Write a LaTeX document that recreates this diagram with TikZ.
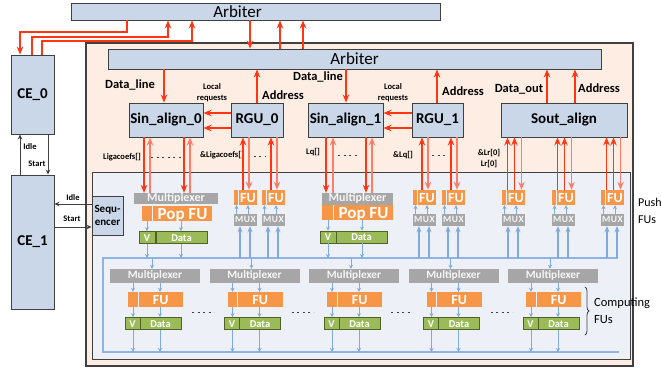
\documentclass[tikz,border=0pt]{standalone}
\usepackage{fontspec}
\setmainfont{Carlito}
\usetikzlibrary{arrows.meta,positioning,calc,decorations.pathreplacing}
\definecolor{nbox}{HTML}{C9D7E8}
\definecolor{npeach}{HTML}{FDEDE2}
\definecolor{narea}{HTML}{EDF1F7}
\definecolor{nframe}{HTML}{404040}
\definecolor{nred}{HTML}{FF3514}
\definecolor{nlightred}{HTML}{FF7D68}
\definecolor{nblue}{HTML}{80AADB}
\definecolor{nbus}{HTML}{8DB4E2}
\definecolor{norange}{HTML}{F79646}
\definecolor{ngreen}{HTML}{9BBB59}
\definecolor{ndarkgreen}{HTML}{4F6228}
\definecolor{ngray}{HTML}{A6A6A6}

\begin{document}
\begin{tikzpicture}[x=1pt,y=-1pt,
  blk/.style={draw=nframe,fill=nbox,line width=0.9pt,inner sep=0pt,font=\bfseries\fontsize{15}{15}\selectfont},
  lbl/.style={font=\bfseries\fontsize{12.5}{13}\selectfont},
  tiny/.style={font=\bfseries\fontsize{8.5}{11}\selectfont,align=center,inner sep=0pt},
  rarr/.style={-{Stealth[length=8pt,width=6.5pt]},nred,line width=1.2pt},
  larr/.style={rarr,nlightred},
  karr/.style={-{Stealth[length=5pt,width=4.5pt]},nframe,line width=0.9pt},
  barr/.style={-{Stealth[length=4pt,width=4pt]},nblue,line width=0.9pt},
  bin/.style={-{Stealth[length=6pt,width=5pt]},nblue,line width=1.4pt},
  mux/.style={fill=ngray,inner sep=0pt,text=white!93!gray,text height=7pt,text depth=1.5pt},
  fu/.style={fill=norange,inner sep=0pt,text=white,text height=9pt,text depth=0pt,
    font=\bfseries\fontsize{14}{14}\selectfont},
  reg/.style={draw=ndarkgreen,fill=ngreen,line width=0.7pt,inner sep=0pt,text=white,
    text height=7pt,text depth=0pt,minimum height=12pt,font=\bfseries\fontsize{10.5}{11}\selectfont},
  dashes/.style={dash pattern=on 2pt off 3.5pt,line width=0.9pt,nframe}]
\useasboundingbox[fill=white] (0,0) rectangle (662,368);

% arbiters and control engines
\node[blk,minimum width=369pt,minimum height=17pt,
  label={[xshift=-18pt,font=\fontsize{17}{17}\selectfont]center:Arbiter}] (arb) at (255.5,11.5) {};
\node[blk,minimum width=43pt,minimum height=79pt] (ce0) at (32.5,94.5) {CE\_0};
\node[blk,minimum width=43pt,minimum height=134pt] (ce1) at (32.5,242) {CE\_1};
\draw[nframe,fill=npeach,line width=1.1pt] (86,43) rectangle (633,366);
\draw[nframe,fill=narea,line width=0.9pt] (92,172) rectangle (630,359);
\node[blk,minimum width=493pt,minimum height=20pt,font=\fontsize{17}{17}\selectfont] (iarb) at (354.5,59) {Arbiter};
\node[blk,minimum width=31pt,minimum height=39pt,align=center,font=\bfseries\fontsize{11}{13}\selectfont] (seq) at (107.5,215.5) {Sequ-\\encer};

\node[blk,minimum width=74pt,minimum height=34pt] (sa0) at (166,120) {Sin\_align\_0};
\node[blk,minimum width=52pt,minimum height=34pt] (rgu0) at (257,120) {RGU\_0};
\node[blk,minimum width=75pt,minimum height=34pt] (sa1) at (345.5,120) {Sin\_align\_1};
\node[blk,minimum width=51pt,minimum height=34pt] (rgu1) at (437.5,120) {RGU\_1};
\node[blk,minimum width=126pt,minimum height=34pt] (sout) at (564,120) {Sout\_align};

\draw[rarr] (127,0 |- arb.south) |- (20,32) -- (20,0 |- ce0.north);
\draw[rarr] (32,0 |- ce0.north) |- (168,37) -- (168,0 |- arb.south);
\draw[rarr] (42,0 |- ce0.north) |- (192,41) -- (192,0 |- arb.south);
\draw[rarr] (250,0 |- arb.south) -- (250,0 |- iarb.north);
\draw[rarr] (280,0 |- iarb.north) -- (280,0 |- arb.south);
\draw[rarr] (303,0 |- iarb.north) -- (303,0 |- arb.south);

\draw[karr] (20,0 |- ce1.north) -- (20,0 |- ce0.south);
\draw[karr] (48,0 |- ce0.south) -- (48,0 |- ce1.north);
\draw[karr] (seq.west |- 0,204) -- (ce1.east |- 0,204);
\draw[karr] (ce1.east |- 0,227) -- (seq.west |- 0,227);
\node[tiny] (idle0) at (30,147) {Idle};
\node[tiny] (start0) at (37,164) {Start};
\node[tiny] (idle1) at (73,198) {Idle};
\node[tiny] (start1) at (72,219) {Start};

% align units
\draw[rarr] (164,0 |- iarb.south) -- (164,0 |- sa0.north);
\draw[rarr] (257,0 |- rgu0.north) -- (257,0 |- iarb.south);
\draw[rarr] (346,0 |- iarb.south) -- (346,0 |- sa1.north);
\draw[rarr] (437,0 |- rgu1.north) -- (437,0 |- iarb.south);
\draw[rarr] (547,0 |- sout.north) -- (547,0 |- iarb.south);
\draw[rarr] (575,0 |- sout.north) -- (575,0 |- iarb.south);
\foreach \y in {113,128} {
  \draw[rarr] (rgu0.west |- 0,\y) -- (sa0.east |- 0,\y);
  \draw[rarr] (rgu1.west |- 0,\y) -- (sa1.east |- 0,\y);
}
\node[lbl] (dl0) at (130,85) {Data\_line};
\node[lbl] (ad0) at (283,95) {Address};
\node[lbl] (dl1) at (318,77) {Data\_line};
\node[lbl] (ad1) at (463,91) {Address};
\node[lbl] (dout) at (519,89) {Data\_out};
\node[lbl] (ad2) at (599,88) {Address};
\node[tiny] (lreq0) at (212,92.5) {Local\\requests};
\node[tiny] (lreq1) at (393,92.5) {Local\\requests};

\node[tiny] (lc0) at (122,157) {Ligacoefs[]};
\draw[dashes] (151,157) -- (184,157);
\node[tiny] (lc1) at (222,155) {\&Ligacoefs[]};
\draw[dashes] (248,156) -- (266,156);
\node[tiny] (lq0) at (313,152) {Lq[]};
\draw[dashes] (338,155) -- (359,155);
\node[tiny] (lq1) at (403,155) {\&Lq[]};
\draw[dashes] (432,155) -- (448,155);
\node[tiny] (lr) at (489,159) {\&Lr[0]\\Lr[0]};

% bus
\coordinate (bustop) at (103,258);
\coordinate (busbot) at (103,352);
\draw[nbus,line width=2.2pt] (618,258) -- (bustop) -- (busbot) -- (619,352);

% pop FUs
\node[mux,minimum width=84pt,minimum height=11pt,font=\bfseries\fontsize{12}{12}\selectfont] (pmux0) at (176,198.5) {Multiplexer};
\fill[norange] (142,206) rectangle (152,221);
\node[fu,minimum width=59pt,minimum height=15pt,text height=11pt,font=\bfseries\fontsize{17}{17}\selectfont] (pop0) at (182.5,213.5) {Pop FU};
\node[reg,minimum width=16pt] (pv0) at (147,237.5) {V};
\node[reg,minimum width=51pt] (pd0) at (181.5,237.5) {Data};
\node[mux,minimum width=71pt,minimum height=12pt,font=\bfseries\fontsize{12}{12}\selectfont] (pmux1) at (357.5,199) {Multiplexer};
\fill[norange] (322,205) rectangle (332.5,220);
\node[fu,minimum width=59pt,minimum height=15pt,text height=11pt,font=\bfseries\fontsize{17}{17}\selectfont] (pop1) at (363.5,212.5) {Pop FU};
\node[reg,minimum width=16pt] (pv1) at (328,237) {V};
\node[reg,minimum width=51pt] (pd1) at (361.5,237) {Data};
\foreach \a/\b in {144/150,184/190} {
  \draw[rarr] (\a,0 |- sa0.south) -- (\a,0 |- pmux0.north);
  \draw[larr] (\b,0 |- pmux0.north) -- (\b,0 |- sa0.south);
}
\foreach \a/\b in {326/333,366/372} {
  \draw[rarr] (\a,0 |- sa1.south) -- (\a,0 |- pmux1.north);
  \draw[larr] (\b,0 |- pmux1.north) -- (\b,0 |- sa1.south);
}
\foreach \x/\i in {147/0,181/0,328/1,362/1} {
  \draw[barr] (\x,0 |- pop\i.south) -- (\x,0 |- pd\i.north);
  \draw[barr] (\x,0 |- pd\i.south) -- (\x,0 |- bustop);
}

% push FUs
\foreach \x [count=\i] in {234,262,413,442,502,552,601} {
  \fill[norange] (\x,190) rectangle ++(4,15);
  \node[fu,minimum width=18pt,minimum height=15pt] (fu\i) at (\x+14,197.5) {FU};
  \node[mux,minimum width=23pt,minimum height=12pt,
    font=\bfseries\fontsize{9.5}{10}\selectfont\addfontfeature{LetterSpace=6}] (mux\i) at (\x+11.5,220) {MUX};
  \draw[barr] (\x+2.5,0 |- mux\i.north) -- (\x+2.5,0 |- fu\i.south);
  \draw[barr] (\x+14,0 |- mux\i.north) -- (\x+14,0 |- fu\i.south);
  \draw[bin] (\x+6,0 |- bustop) -- (\x+6,0 |- mux\i.south);
  \draw[bin] (\x+16,0 |- bustop) -- (\x+16,0 |- mux\i.south);
}
\foreach \x/\i/\p in {234/1/rgu0,262/2/rgu0,413/3/rgu1,442/4/rgu1} {
  \draw[rarr] (\x+9,0 |- fu\i.north) -- (\x+9,0 |- \p.south);
  \draw[larr] (\x+15,0 |- \p.south) -- (\x+15,0 |- fu\i.north);
}
\foreach \x/\i in {502/5,552/6,601/7} {
  \draw[rarr] (\x+5.5,0 |- fu\i.north) -- (\x+5.5,0 |- sout.south);
  \draw[rarr] (\x+12.5,0 |- fu\i.north) -- (\x+12.5,0 |- sout.south);
  \draw[larr] (\x+19.5,0 |- sout.south) -- (\x+19.5,0 |- fu\i.north);
}

% computing FUs
\foreach \i in {0,...,4} {
  \pgfmathsetmacro\L{110+99.5*\i}
  \node[mux,minimum width=90pt,minimum height=14pt,font=\bfseries\fontsize{11.3}{12}\selectfont] (cmux\i) at (\L+45,276) {Multiplexer};
  \fill[norange] (\L+18,292) rectangle (\L+27.5,307);
  \node[fu,minimum width=44.5pt,minimum height=15pt] (cfu\i) at (\L+50.75,299.5) {FU};
  \node[reg,minimum width=15pt] (cv\i) at (\L+22.5,323.5) {V};
  \node[reg,minimum width=41pt] (cd\i) at (\L+50.5,323.5) {Data};
  \draw[barr] (\L+42,0 |- bustop) -- (\L+42,0 |- cmux\i.north);
  \foreach \o in {23,50} {
    \draw[barr] (\L+\o,0 |- cmux\i.south) -- (\L+\o,0 |- cfu\i.north);
    \draw[barr] (\L+\o,0 |- cfu\i.south) -- (\L+\o,0 |- cv\i.north);
    \draw[barr] (\L+\o,0 |- cv\i.south) -- (\L+\o,0 |- busbot);
  }
}
\foreach \i in {0,...,3} \draw[dashes] (192+99.5*\i,312) -- ++(22,0);

\draw[decorate,decoration={brace,amplitude=4pt},nframe,line width=0.8pt] (585,287) -- (585,335);
\node[anchor=west,align=left,inner sep=0pt,font=\fontsize{12.5}{17}\selectfont] (cmp) at (594,311) {Computing\\FUs};
\node[anchor=west,align=left,inner sep=0pt,font=\fontsize{12}{17}\selectfont] (push) at (638,211) {Push\\FUs};
\end{tikzpicture}
\end{document}
